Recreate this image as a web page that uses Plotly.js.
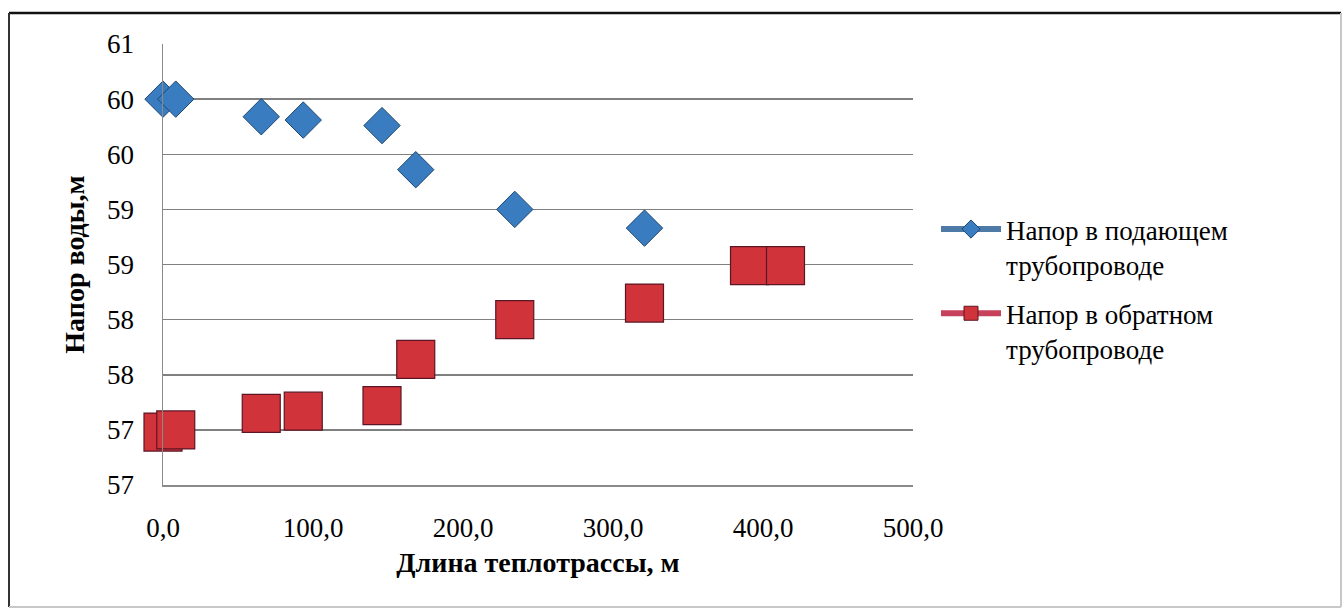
<!DOCTYPE html>
<html>
<head>
<meta charset="utf-8">
<script src="https://cdn.plot.ly/plotly-3.0.1.min.js"></script>
<style>
  html, body { margin: 0; padding: 0; background: #ffffff; }
  #chart { width: 1344px; height: 612px; }
</style>
</head>
<body>
<div id="chart"></div>
<script>
// ---- data ----
const supplyName = "Напор в подающем<br>трубопроводе";
const returnName = "Напор в обратном<br>трубопроводе";

const supplyX = [0, 8.5, 65.5, 93.5, 146, 168.5, 234.5, 321];
const supplyY = [60.00, 60.00, 59.84, 59.81, 59.76, 59.36, 59.00, 58.83];

const returnX = [0, 8.5, 65.5, 93.5, 146, 168.5, 234.5, 321, 391, 415];
const returnY = [56.98, 57.00, 57.15, 57.17, 57.22, 57.64, 58.00, 58.15, 58.49, 58.49];

const xTickVals = [0, 100, 200, 300, 400, 500];
const xTickText = ["0,0", "100,0", "200,0", "300,0", "400,0", "500,0"];
const yTickVals = [56.5, 57, 57.5, 58, 58.5, 59, 59.5, 60, 60.5];
const yTickText = ["57", "57", "58", "58", "59", "59", "60", "60", "61"];

const xTitle = "Длина теплотрассы, м";
const yTitle = "Напор воды,м";

// ---- styling ----
const FONT = "Times New Roman, Liberation Serif, DejaVu Serif, serif";
const blue = "#3a7cc0", blueEdge = "#1d466f", blueLegLine = "#4d7aa6";
const red = "#d0343a", redEdge = "#5c1524", redLegLine = "#c7405c";

const traces = [
  {
    x: supplyX, y: supplyY, type: "scatter", mode: "markers",
    name: supplyName, showlegend: false, cliponaxis: false,
    marker: { symbol: "diamond", size: 28, color: blue, line: { color: blueEdge, width: 1 } }
  },
  {
    x: returnX, y: returnY, type: "scatter", mode: "markers",
    name: returnName, showlegend: false, cliponaxis: false,
    marker: { symbol: "square", size: 38, color: red, line: { color: redEdge, width: 1.2 } }
  },
  // legend entries (line + marker look, as in the original legend)
  {
    x: [null], y: [null], type: "scatter", mode: "lines+markers", name: supplyName,
    legendgroup: "supply",
    line: { color: blueLegLine, width: 6 },
    marker: { symbol: "diamond", size: 14, color: blue, line: { color: blueEdge, width: 1 } }
  },
  {
    x: [null], y: [null], type: "scatter", mode: "lines+markers", name: returnName,
    legendgroup: "return",
    line: { color: redLegLine, width: 6 },
    marker: { symbol: "square", size: 14, color: red, line: { color: redEdge, width: 1 } }
  }
];

const W = 1344, H = 612;
const L = 163, R = 431, T = 44, B = 127;
const pw = W - L - R, ph = H - T - B;
const px = v => (v - L) / pw;
const py = v => (H - B - v) / ph;

const layout = {
  width: W, height: H,
  margin: { l: L, r: R, t: T, b: B, pad: 0 },
  paper_bgcolor: "#ffffff", plot_bgcolor: "#ffffff",
  font: { family: FONT, size: 26, color: "#000000" },
  showlegend: true,
  legend: {
    x: px(936), y: py(205), xanchor: "left", yanchor: "top",
    font: { family: FONT, size: 27, color: "#000000" },
    valign: "top", tracegroupgap: 11, itemwidth: 60,
    bgcolor: "rgba(0,0,0,0)"
  },
  xaxis: {
    range: [0, 500], tickvals: xTickVals, ticktext: xTickText,
    showgrid: false, zeroline: false,
    showline: true, linecolor: "#8a8a8a", linewidth: 1.5,
    ticks: "", ticklabelstandoff: 18,
    tickfont: { family: FONT, size: 27, color: "#000000" },
    title: { text: xTitle, standoff: 10, font: { family: FONT, size: 28, color: "#000000", weight: "bold" } }
  },
  yaxis: {
    range: [56.5, 60.5], tickvals: yTickVals, ticktext: yTickText,
    showgrid: true, gridcolor: "#808080", gridwidth: 1.5,
    zeroline: false, showline: true, linecolor: "#8a8a8a", linewidth: 1.5,
    ticks: "", ticklabelstandoff: 22,
    tickfont: { family: FONT, size: 27, color: "#000000" },
    title: { text: yTitle, standoff: 14, font: { family: FONT, size: 28, color: "#000000", weight: "bold" } }
  },
  shapes: [
    { type: "line", xref: "paper", yref: "paper", x0: px(9), x1: px(1341), y0: py(13), y1: py(13), line: { color: "#111111", width: 2.5 } },
    { type: "line", xref: "paper", yref: "paper", x0: px(9), x1: px(9), y0: py(13), y1: py(607), line: { color: "#333333", width: 2 } },
    { type: "line", xref: "paper", yref: "paper", x0: px(1341), x1: px(1341), y0: py(13), y1: py(607), line: { color: "#c8c8c8", width: 2 } },
    { type: "line", xref: "paper", yref: "paper", x0: px(9), x1: px(1341), y0: py(607), y1: py(607), line: { color: "#c8c8c8", width: 2 } }
  ]
};

Plotly.newPlot("chart", traces, layout, { displayModeBar: false, staticPlot: true });
</script>
</body>
</html>
